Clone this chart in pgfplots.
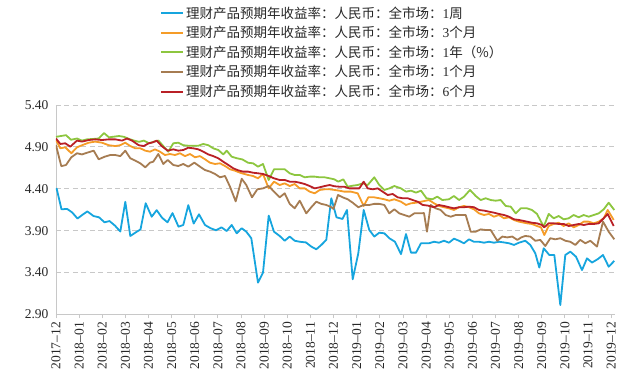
\documentclass[border=0pt]{standalone}
\usepackage{pgfplots}
\pgfplotsset{compat=1.18}
\usepackage{fontspec}
\setmainfont{Liberation Serif}
\newfontfamily\cjk{Noto Sans CJK SC}
\definecolor{cblue}{RGB}{22,165,222}
\definecolor{corange}{RGB}{245,156,40}
\definecolor{cgreen}{RGB}{141,198,63}
\definecolor{cbrown}{RGB}{166,124,82}
\definecolor{cred}{RGB}{185,32,38}
\definecolor{linegray}{RGB}{200,200,200}
\definecolor{txt}{RGB}{40,40,40}
\begin{document}
\begin{tikzpicture}
\path[use as bounding box] (-56pt,-72.5pt) rectangle (577pt,314.5pt);
\begin{axis}[
  scale only axis, width=559pt, height=209.5pt,
  xmin=0, xmax=559, ymin=2.9, ymax=5.4,
  axis x line=bottom, axis y line=left,
  axis line style={-, draw=linegray, line width=0.9pt},
  ytick={2.9,3.4,3.9,4.4,4.9,5.4},
  yticklabel style={/pgf/number format/.cd, fixed, fixed zerofill, precision=2},
  /pgf/number format/assume math mode=true,
  ymajorgrids, grid style={draw=linegray, line width=0.8pt, dash pattern=on 5pt off 3.5pt},
  xtick={0,23.13,...,556},
  xticklabels={2017--12,2018--01,2018--02,2018--03,2018--04,2018--05,2018--06,2018--07,2018--08,2018--09,2018--10,2018--11,2018--12,2019--01,2019--02,2019--03,2019--04,2019--05,2019--06,2019--07,2019--08,2019--09,2019--10,2019--11,2019--12},
  tick align=outside, major tick length=4pt,
  xtick style={draw=linegray, line width=0.9pt},
  ytick style={draw=none},
  tick label style={font=\fontsize{13.5}{16}\selectfont, text=txt},
  xticklabel style={rotate=90, anchor=east},
  legend style={draw=none, fill=none, at={(0.186,1.48)}, anchor=north west,
    font=\fontsize{13.5}{16}\selectfont, text=txt, row sep=2.6pt, inner sep=0pt},
  legend cell align=left,
  legend image code/.code={\draw[#1, line width=2pt] (0pt,0pt) -- (22pt,0pt);},
  every axis plot/.append style={line width=1.8pt, line join=round, no marks},
]
\addplot[cblue] table {
0.5 4.41
5.5 4.155
11 4.16
16 4.12
21.5 4.045
26.5 4.09
31.3 4.13
37.5 4.075
43 4.06
48.5 4.0
53.5 4.015
59 3.96
64.3 3.89
69.3 4.245
74.3 3.837
79.7 3.88
84.5 3.915
89.7 4.227
95.7 4.067
100.7 4.145
106 4.055
111.5 4.0
116.5 4.11
122.5 3.948
127.3 3.968
132.3 4.205
137.7 3.985
143 4.095
149 3.968
154.5 3.93
160 3.905
165.5 3.94
170.7 3.896
175.7 3.968
180.7 3.869
185.7 3.929
190.3 3.888
195.3 3.81
202 3.28
207 3.40
212.7 4.08
218 3.888
223.7 3.837
228.7 3.78
233.7 3.83
238.7 3.78
243.7 3.768
250 3.76
255.3 3.71
260.3 3.678
265.3 3.73
270.3 3.79
275.3 4.287
280.5 4.06
286.5 4.04
291 4.147
296.7 3.32
302.3 3.63
307.7 4.147
313.3 3.908
318.3 3.83
323.3 3.876
328.3 3.869
333.3 3.81
339 3.768
345 3.62
350 3.86
355 3.638
360 3.638
365 3.75
373 3.75
378 3.768
383 3.757
388 3.78
393 3.757
398 3.805
403 3.78
408 3.75
413 3.797
418 3.768
423 3.768
428 3.757
433 3.768
438 3.757
443 3.768
448 3.76
453 3.75
458 3.73
463 3.757
469.3 3.78
474.3 3.73
479.3 3.63
483.3 3.46
487.7 3.69
493.3 3.61
498.3 3.61
504.3 3.013
509.3 3.61
514.3 3.65
520 3.59
526 3.43
531 3.57
536 3.52
541.7 3.56
547 3.61
552.7 3.47
558.3 3.54
};
\addlegendentry{{\cjk 理财产品预期年收益率：人民币：全市场：}1{\cjk 周}}
\addplot[corange] table {
0 4.982
4.3 4.883
9.3 4.895
15.3 4.824
21 4.895
26 4.92
32.7 4.95
39.3 4.963
46 4.95
52.7 4.92
59.3 4.91
64.3 4.92
69.3 4.95
74.3 4.91
79.3 4.883
84.3 4.883
89.3 4.855
94 4.843
99 4.871
104 4.843
109 4.803
114 4.815
119 4.803
124 4.824
129 4.79
134 4.815
139 4.776
144 4.79
149 4.752
154 4.711
159 4.696
164 4.704
169 4.672
174 4.633
179 4.616
184.5 4.59
192 4.565
197 4.553
202 4.525
207 4.577
212.7 4.405
218 4.485
223.7 4.445
228.7 4.465
233.7 4.433
238.7 4.457
243.7 4.405
248.7 4.405
253.7 4.366
258.7 4.346
263.7 4.386
268.7 4.394
273.7 4.394
278.7 4.386
283 4.378
288.3 4.366
295 4.366
301.7 4.346
307.7 4.195
312.3 4.298
318.3 4.298
323.3 4.287
328.3 4.275
333.3 4.258
338.3 4.275
345 4.246
350 4.207
355 4.227
360 4.234
365 4.246
373 4.266
378 4.227
383 4.195
388 4.18
393 4.167
398 4.147
403 4.18
408 4.195
413 4.18
418 4.155
423 4.107
428 4.087
433 4.10
438 4.067
443 4.087
448 4.048
453 4.06
458 4.028
463 4.008
471 3.988
476 3.98
481 3.956
485 3.94
488.3 3.848
492.7 3.956
497.7 3.98
502.7 3.995
507.7 3.956
512.7 3.988
517.7 3.94
522.7 3.968
527.7 4.008
532.7 4.008
537.7 3.988
542.7 4.008
547.7 4.048
551.7 4.147
557.7 4.028
};
\addlegendentry{{\cjk 理财产品预期年收益率：人民币：全市场：}3{\cjk 个月}}
\addplot[cgreen] table {
0 5.02
5 5.03
10 5.04
15 4.985
21 5.0
26 4.975
31 4.99
37.5 4.995
42.7 5.0
48 5.065
53 5.014
58 5.022
63 5.03
68 5.02
73 4.995
78 4.975
83 4.96
88 4.975
93 4.943
98 4.963
102.5 4.975
107.3 4.91
112.3 4.843
117.3 4.943
122.3 4.95
127.3 4.92
132.3 4.914
137.3 4.914
142.3 4.914
147.3 4.935
152.3 4.92
157.3 4.883
162.3 4.863
167.3 4.81
170.7 4.855
175.7 4.783
180.7 4.765
186.5 4.75
192 4.711
197 4.704
202 4.664
207 4.696
212.7 4.505
218 4.633
223.7 4.633
228.7 4.633
233.7 4.585
238.7 4.565
243.7 4.565
248.7 4.537
253.7 4.545
258.7 4.545
263.7 4.537
268.7 4.537
273.7 4.525
278.3 4.513
282.3 4.485
287.3 4.513
291.7 4.425
296.7 4.437
301.7 4.445
306.7 4.465
311.7 4.445
318.3 4.537
323.3 4.445
328.3 4.386
333.3 4.405
338.3 4.433
345 4.405
350 4.366
355 4.378
360 4.354
365 4.378
370.5 4.287
376.3 4.275
381.3 4.306
386.3 4.266
393 4.275
398 4.314
403 4.266
408 4.306
414 4.386
419.7 4.314
424.7 4.266
429.7 4.287
434.7 4.266
439.7 4.258
444.7 4.266
449.7 4.195
454.7 4.187
459.7 4.107
464.7 4.167
471 4.167
476 4.147
481 4.10
487.7 3.948
492.7 4.10
497.7 4.048
502.7 4.075
507.7 4.036
512.7 4.048
517.7 4.087
522.7 4.06
527.7 4.087
532.7 4.067
537.7 4.087
542.7 4.107
547.7 4.155
552.7 4.234
558.3 4.147
};
\addlegendentry{{\cjk 理财产品预期年收益率：人民币：全市场：}1{\cjk 年（\%）}}
\addplot[cbrown] table {
0 4.92
5.3 4.67
10 4.684
15.3 4.776
21 4.824
26 4.81
31 4.83
37.7 4.855
42.7 4.752
48.7 4.783
54.3 4.803
59.3 4.803
64.3 4.79
69.3 4.855
74.3 4.764
79.3 4.736
84.3 4.704
89.3 4.656
94 4.712
97.3 4.724
102.3 4.815
107.3 4.696
111.7 4.744
117.3 4.684
122.3 4.672
127.3 4.696
132.3 4.664
138.3 4.712
144 4.664
149 4.624
154 4.605
159 4.577
164 4.537
169 4.553
174 4.425
179.7 4.25
185.7 4.52
190.3 4.445
196 4.298
201.3 4.394
207 4.405
212.7 4.433
218 4.366
223.7 4.298
228.7 4.346
233.7 4.22
238.7 4.167
243.7 4.258
250.3 4.107
255.3 4.18
260.3 4.246
265.3 4.22
270.3 4.207
275.3 4.18
277.5 4.16
282 4.326
286.7 4.298
291.7 4.275
296.7 4.234
302.3 4.18
307.7 4.207
313.3 4.207
318.3 4.22
323.3 4.22
328.3 4.207
333.3 4.107
338.3 4.155
343.3 4.107
348.3 4.087
353.3 4.067
358.3 4.107
363.3 4.107
368 4.11
371 3.888
374.7 4.207
379.7 4.167
384.7 4.147
389.7 4.087
394.7 4.067
399.7 4.087
404.7 4.087
409.7 4.087
414.7 3.888
419.7 3.888
424.7 3.916
429.7 3.908
434.7 3.908
441.3 3.78
446.3 3.83
451.3 3.82
456.3 3.83
461.3 3.79
465.3 3.82
469.3 3.837
474.3 3.83
479.3 3.78
484.3 3.79
489.3 3.717
494.3 3.81
499.3 3.797
504.3 3.81
509.3 3.78
514.3 3.768
519.3 3.73
524.3 3.79
529.3 3.75
534.3 3.78
541 3.71
547 4.008
552.7 3.888
558.3 3.797
};
\addlegendentry{{\cjk 理财产品预期年收益率：人民币：全市场：}1{\cjk 个月}}
\addplot[cred] table {
0 5.0
4.3 4.935
9.3 4.943
14.3 4.903
21 4.975
26 4.963
32.7 4.982
39.3 4.99
46 4.982
52.7 4.99
59.3 4.99
66 4.975
71 5.0
76 4.975
82.7 4.92
87.7 4.91
92.7 4.943
97 4.955
100.7 4.975
105.7 4.91
111.7 4.855
117.3 4.871
122.3 4.855
127.3 4.863
132.3 4.89
137.3 4.883
142.3 4.871
147.3 4.843
152.3 4.81
157.3 4.79
162.3 4.764
167.3 4.723
172.3 4.684
177.3 4.644
182.3 4.62
187 4.605
192 4.605
197 4.592
202 4.585
207 4.577
212.7 4.553
218 4.525
223.7 4.505
228.7 4.505
233.7 4.485
238.7 4.485
243.7 4.473
248.7 4.457
253.7 4.433
258.7 4.405
263.7 4.418
268.7 4.433
273.7 4.445
278.5 4.43
283.3 4.425
288.3 4.425
293.3 4.405
298.3 4.405
303.3 4.405
307.7 4.485
311.7 4.405
316.7 4.394
321.7 4.405
326.7 4.366
331.7 4.326
336.7 4.338
341.7 4.298
346.7 4.287
351.7 4.287
356.7 4.266
361.7 4.246
366.7 4.207
371.7 4.2
378 4.18
383 4.207
388 4.195
393 4.18
398 4.167
403 4.18
408 4.18
413 4.187
418 4.18
423 4.147
428 4.14
433 4.127
438 4.115
443 4.10
448 4.087
453 4.067
458 4.036
463 4.028
471 4.008
476 3.995
481 3.988
486 3.968
488.3 3.94
492.7 3.988
497.7 3.988
502.7 3.98
507.7 3.98
512.7 3.956
517.7 3.968
522.7 3.98
527.7 3.968
532.7 3.98
537.7 3.98
542.7 3.988
547.7 4.048
551.7 4.10
557.7 3.956
};
\addlegendentry{{\cjk 理财产品预期年收益率：人民币：全市场：}6{\cjk 个月}}
\end{axis}
\end{tikzpicture}
\end{document}
